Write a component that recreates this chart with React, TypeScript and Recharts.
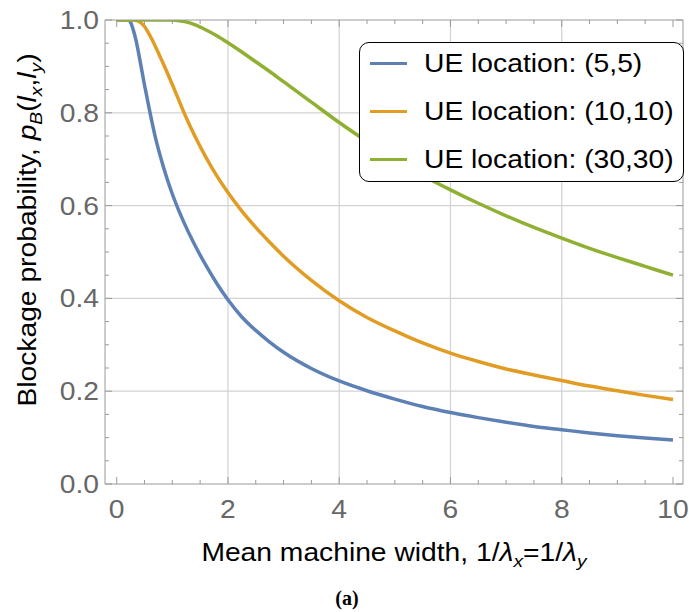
import React from "react";
import { LineChart, Line, XAxis, YAxis, ReferenceLine, Legend, Label } from "recharts";

// mean machine width 1/λx = 1/λy
const widths = [
  0, 0.1, 0.2, 0.25, 0.3, 0.35, 0.4, 0.5, 0.6, 0.7, 0.8, 0.9, 1.0, 1.1, 1.2, 1.4, 1.6, 1.8,
  2.0, 2.25, 2.5, 2.75, 3.0, 3.5, 4.0, 4.5, 5.0, 5.5, 6.0, 6.5, 7.0, 7.5, 8.0, 8.5, 9.0, 9.5, 10,
];

// blockage probability per UE location
const ue55 = [
  1, 1, 1, 0.995, 0.978, 0.955, 0.925, 0.86, 0.8, 0.745, 0.7, 0.66, 0.625, 0.594, 0.566, 0.516, 0.472, 0.432,
  0.397, 0.36, 0.331, 0.306, 0.284, 0.249, 0.222, 0.201, 0.183, 0.167, 0.154, 0.143, 0.133, 0.124, 0.117, 0.11, 0.104, 0.099, 0.095,
];
const ue1010 = [
  1, 1, 1, 1, 1, 0.999, 0.997, 0.986, 0.966, 0.942, 0.916, 0.889, 0.861, 0.832, 0.803, 0.751, 0.705, 0.664,
  0.628, 0.588, 0.553, 0.521, 0.491, 0.439, 0.395, 0.359, 0.33, 0.304, 0.282, 0.264, 0.248, 0.235, 0.223, 0.211, 0.201, 0.191, 0.182,
];
const ue3030 = [
  1, 1, 1, 1, 1, 1, 1, 1, 1, 1, 1, 1, 1, 0.999, 0.997, 0.99, 0.979, 0.966,
  0.951, 0.931, 0.91, 0.889, 0.867, 0.823, 0.779, 0.738, 0.699, 0.665, 0.634, 0.605, 0.578, 0.553, 0.53, 0.508, 0.488, 0.469, 0.45,
];

const seriesNames = ["UE location: (5,5)", "UE location: (10,10)", "UE location: (30,30)"];
const seriesColors = ["#5e81b5", "#e19c24", "#8fb032"];

const xMajor = [0, 2, 4, 6, 8, 10];
const xTicks = [0, 0.5, 1, 1.5, 2, 2.5, 3, 3.5, 4, 4.5, 5, 5.5, 6, 6.5, 7, 7.5, 8, 8.5, 9, 9.5, 10];
const yMajor = [0, 0.2, 0.4, 0.6, 0.8, 1.0];
const yTicks = [
  0, 0.05, 0.1, 0.15, 0.2, 0.25, 0.3, 0.35, 0.4, 0.45, 0.5, 0.55, 0.6, 0.65, 0.7, 0.75, 0.8, 0.85, 0.9, 0.95, 1.0,
];
const xGrid = [2, 4, 6, 8];
const yGrid = [0.2, 0.4, 0.6, 0.8];

const data = widths.map((w, i) => ({ w, a: ue55[i], b: ue1010[i], c: ue3030[i] }));

const FONT = '"Liberation Sans", Arial, sans-serif';
const SX = 1.13; // text in the figure is a bit wider than Arial
const TICK_GRAY = "#676767";
const FRAME_GRAY = "#9a9a9a";
const GRID_GRAY = "#d2d2d2";

const isIn = (list: number[], v: number) => list.some((m) => Math.abs(m - v) < 1e-9);

function BottomTick(props: any) {
  const { x, y, payload } = props;
  const major = isIn(xMajor, payload.value);
  return (
    <g>
      <line x1={x} x2={x} y1={y} y2={y - (major ? 7 : 4)} stroke={FRAME_GRAY} />
      {major && (
        <g transform={`translate(${x},${y + 34}) scale(${SX},1)`}>
          <text x={0} y={0} textAnchor="middle" fontSize={25} fill={TICK_GRAY} fontFamily={FONT}>
            {payload.value}
          </text>
        </g>
      )}
    </g>
  );
}

function TopTick(props: any) {
  const { x, y, payload } = props;
  const major = isIn(xMajor, payload.value);
  return <line x1={x} x2={x} y1={y} y2={y + (major ? 7 : 4)} stroke={FRAME_GRAY} />;
}

function LeftTick(props: any) {
  const { x, y, payload } = props;
  const major = isIn(yMajor, payload.value);
  return (
    <g>
      <line x1={x} x2={x + (major ? 7 : 4)} y1={y} y2={y} stroke={FRAME_GRAY} />
      {major && (
        <g transform={`translate(${x - 6},${y}) scale(${SX},1)`}>
          <text x={0} y={0} dy="0.36em" textAnchor="end" fontSize={25} fill={TICK_GRAY} fontFamily={FONT}>
            {payload.value.toFixed(1)}
          </text>
        </g>
      )}
    </g>
  );
}

function RightTick(props: any) {
  const { x, y, payload } = props;
  const major = isIn(yMajor, payload.value);
  return <line x1={x} x2={x - (major ? 7 : 4)} y1={y} y2={y} stroke={FRAME_GRAY} />;
}

function XTitle(props: any) {
  const vb = props.viewBox;
  const cx = vb.x + vb.width / 2;
  return (
    <g>
      <g transform={`translate(${cx},${vb.y + 77}) scale(${SX},1)`}>
        <text x={0} y={0} textAnchor="middle" fontSize={25} fill="#000" fontFamily={FONT}>
          Mean machine width, 1/<tspan fontStyle="italic">λ</tspan>
          <tspan fontStyle="italic" fontSize={17} dy={6}>x</tspan>
          <tspan dy={-6}>=1/</tspan>
          <tspan fontStyle="italic">λ</tspan>
          <tspan fontStyle="italic" fontSize={17} dy={6}>y</tspan>
        </text>
      </g>
      <text x={347} y={vb.y + 121} textAnchor="middle" fontSize={20} fontWeight="bold" fill="#000"
        fontFamily='"Liberation Serif", serif'>
        (a)
      </text>
    </g>
  );
}

function YTitle(props: any) {
  const vb = props.viewBox;
  const cy = vb.y + vb.height / 2 - 22;
  return (
    <g transform={`translate(36,${cy}) rotate(-90) scale(${SX},1)`}>
      <text x={0} y={0} textAnchor="middle" fontSize={25} fill="#000" fontFamily={FONT}>
        Blockage probability, <tspan fontStyle="italic">p</tspan>
        <tspan fontStyle="italic" fontSize={17} dy={6}>B</tspan>
        <tspan dy={-6}>(</tspan>
        <tspan fontStyle="italic">l</tspan>
        <tspan fontStyle="italic" fontSize={17} dy={6}>x</tspan>
        <tspan dy={-6}>,</tspan>
        <tspan fontStyle="italic">l</tspan>
        <tspan fontStyle="italic" fontSize={17} dy={6}>y</tspan>
        <tspan dy={-6}>)</tspan>
      </text>
    </g>
  );
}

function LegendBox(props: any) {
  const items = [...(props.payload ?? [])].sort(
    (p: any, q: any) => seriesNames.indexOf(p.value) - seriesNames.indexOf(q.value)
  );
  return (
    <div
      style={{
        position: "relative",
        width: 325,
        height: 140,
        boxSizing: "border-box",
        border: "1.5px solid #000",
        borderRadius: 10,
        background: "#fff",
        fontFamily: FONT,
      }}
    >
      {items.map((it: any, i: number) => (
        <div key={it.value} style={{ position: "absolute", left: 0, top: 4 + i * 48, width: "100%", height: 32 }}>
          <span
            style={{ position: "absolute", left: 10, top: 15, width: 37, height: 3, background: it.color }}
          />
          <span
            style={{
              position: "absolute",
              left: 64,
              top: 0,
              fontSize: 25,
              lineHeight: "32px",
              whiteSpace: "nowrap",
              color: "#000",
              transform: `scaleX(${SX})`,
              transformOrigin: "left center",
            }}
          >
            {it.value}
          </span>
        </div>
      ))}
    </div>
  );
}

export default function App() {
  return (
    <div style={{ width: 689, height: 612, background: "#fff" }}>
      <style>{"body{margin:0}"}</style>
      <LineChart width={689} height={612} data={data} margin={{ top: 0, right: 0, bottom: 0, left: 0 }}>
        <XAxis
          xAxisId="main"
          dataKey="w"
          type="number"
          domain={[-0.21, 10.18]}
          ticks={xTicks}
          interval={0}
          height={128}
          tickSize={0}
          tickMargin={0}
          tickLine={false}
          axisLine={{ stroke: FRAME_GRAY }}
          tick={BottomTick}
          allowDataOverflow
        >
          <Label content={XTitle} />
        </XAxis>
        <XAxis
          xAxisId="top"
          orientation="top"
          dataKey="w"
          type="number"
          domain={[-0.21, 10.18]}
          ticks={xTicks}
          interval={0}
          height={20}
          tickSize={0}
          tickMargin={0}
          tickLine={false}
          axisLine={{ stroke: FRAME_GRAY }}
          tick={TopTick}
          allowDataOverflow
        />
        <YAxis
          yAxisId="main"
          type="number"
          domain={[0, 1]}
          ticks={yTicks}
          interval={0}
          width={105}
          tickSize={0}
          tickMargin={0}
          tickLine={false}
          axisLine={{ stroke: FRAME_GRAY }}
          tick={LeftTick}
          allowDataOverflow
        >
          <Label content={YTitle} />
        </YAxis>
        <YAxis
          yAxisId="right"
          orientation="right"
          type="number"
          domain={[0, 1]}
          ticks={yTicks}
          interval={0}
          width={6}
          tickSize={0}
          tickMargin={0}
          tickLine={false}
          axisLine={{ stroke: FRAME_GRAY }}
          tick={RightTick}
          allowDataOverflow
        />
        {xGrid.map((g) => (
          <ReferenceLine key={`gx${g}`} xAxisId="main" yAxisId="main" x={g} stroke={GRID_GRAY} strokeWidth={1.2} />
        ))}
        {yGrid.map((g) => (
          <ReferenceLine key={`gy${g}`} xAxisId="main" yAxisId="main" y={g} stroke={GRID_GRAY} strokeWidth={1.2} />
        ))}
        <Line xAxisId="main" yAxisId="main" type="monotone" dataKey="a" name={seriesNames[0]} stroke={seriesColors[0]}
          strokeWidth={3.5} dot={false} isAnimationActive={false} />
        <Line xAxisId="main" yAxisId="main" type="monotone" dataKey="b" name={seriesNames[1]} stroke={seriesColors[1]}
          strokeWidth={3.5} dot={false} isAnimationActive={false} />
        <Line xAxisId="main" yAxisId="main" type="monotone" dataKey="c" name={seriesNames[2]} stroke={seriesColors[2]}
          strokeWidth={3.5} dot={false} isAnimationActive={false} />
        <Legend
          content={LegendBox}
          layout="horizontal"
          verticalAlign="middle"
          align="center"
          wrapperStyle={{ left: 359, top: 42, width: 325, height: 140 }}
        />
      </LineChart>
    </div>
  );
}
